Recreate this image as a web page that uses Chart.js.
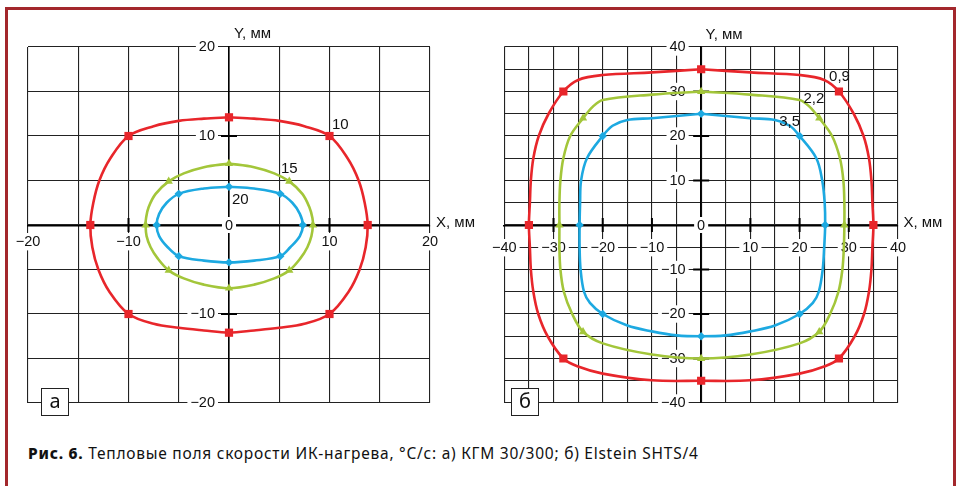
<!DOCTYPE html>
<html lang="ru">
<head>
<meta charset="utf-8">
<script src="https://cdn.jsdelivr.net/npm/chart.js@4.4.0/dist/chart.umd.min.js"></script>
<style>
    html, body { margin: 0; padding: 0; background: #fff; }
    body { width: 957px; height: 486px; position: relative; overflow: hidden; font-family: "Liberation Sans", Arial, sans-serif; }
    #frame { position: absolute; left: 5px; top: 7px; width: 945px; height: 500px; border: 3px solid #a3282c; border-bottom: none; }
    .wrap { position: absolute; top: 0; height: 430px; }
    #wrapA { left: 0; width: 478px; }
    #wrapB { left: 478px; width: 479px; }
    .tag { position: absolute; top: 388px; width: 26px; height: 26px; border: 1.5px solid #222; background: #fff;
           font: 20px "Noto Sans", sans-serif; text-align: center; line-height: 24px; color: #111; }
    #caption { position: absolute; left: 28px; top: 442px; font: 15.5px "Noto Sans", sans-serif; letter-spacing: 0.75px; color: #111; white-space: nowrap; }
    #caption b { font-weight: 800; }
</style>
</head>
<body>
<div id="frame"></div>
<div class="wrap" id="wrapA"><canvas id="chartA"></canvas></div>
<div class="wrap" id="wrapB"><canvas id="chartB"></canvas></div>
<div class="tag" style="left:41px">а</div>
<div class="tag" style="left:511px">б</div>
<div id="caption"><b>Рис. 6.</b> Тепловые поля скорости ИК-нагрева, °C/с: а) КГМ 30/300; б) Elstein SHTS/4</div>

<script>
// --- data, [x, y] in mm ---

// а) КГМ 30/300
var aNames = ['10', '15', '20'];
var aRed = [[0,12.1],[2.5,11.95],[5,11.7],[7.5,11.1],[10,10],[11.8,7.5],[12.9,5],[13.5,2.5],[13.8,0],[13.6,-2.5],[13.0,-5],[11.9,-7.5],[10,-10],[7.5,-11.1],[5,-11.55],[2.5,-11.85],[0,-12.1],
            [-2.5,-11.85],[-5,-11.55],[-7.5,-11.1],[-10,-10],[-11.9,-7.5],[-13.0,-5],[-13.6,-2.5],[-13.8,0],[-13.5,2.5],[-12.9,5],[-11.8,7.5],[-10,10],[-7.5,11.1],[-5,11.7],[-2.5,11.95],[0,12.1]];
var aRedMarks = [[0,12.1],[10,10],[13.8,0],[10,-10],[0,-12.1],[-10,-10],[-13.8,0],[-10,10]];
var aGreen = [[0,6.9],[2.5,6.5],[4.5,5.8],[6,4.9],[7.3,3.5],[8.0,2.0],[8.3,0.8],[8.35,0],[8.2,-1.25],[7.8,-2.5],[7.1,-3.75],[6,-5.1],[4.5,-6.0],[2.5,-6.7],[0,-7.1],
              [-2.5,-6.7],[-4.5,-6.0],[-6,-5.1],[-7.1,-3.75],[-7.8,-2.5],[-8.2,-1.25],[-8.3,0],[-8.25,0.8],[-8.0,2.0],[-7.3,3.5],[-6,4.9],[-4.5,5.8],[-2.5,6.5],[0,6.9]];
var aGreenMarks = [[0,6.9],[6,4.9],[8.35,0],[6,-5.1],[0,-7.1],[-6,-5.1],[-8.3,0],[-6,4.9]];
var aBlue = [[0,4.3],[2.5,4.1],[5.1,3.5],[6.3,2.5],[7.05,1.25],[7.35,0],[7.05,-1.25],[6.1,-2.5],[5.1,-3.5],[2.5,-4.0],[0,-4.2],
             [-2.5,-4.0],[-5,-3.5],[-6.1,-2.5],[-6.95,-1.25],[-7.2,0],[-6.95,1.25],[-6.2,2.5],[-5,3.5],[-2.5,4.1],[0,4.3]];
var aBlueMarks = [[0,4.3],[5.1,3.5],[7.35,0],[5.1,-3.5],[0,-4.2],[-5,-3.5],[-7.2,0],[-5,3.5]];

// б) Elstein SHTS/4
var bNames = ['0,9', '2,2', '3,5'];
var bRed = [[0,35],[10,34.3],[20,33.7],[25,32.6],[28,30],[31.0,25],[33.0,20],[34.1,15],[34.6,10],[34.8,5],[35,0],[34.8,-5],[34.6,-10],[34.1,-15],[33.1,-20],[31.2,-25],[28,-30],[25,-31.8],[20,-33.4],[10,-34.9],[0,-35],
            [-10,-34.9],[-20,-33.4],[-25,-31.8],[-28,-30],[-31.2,-25],[-33.1,-20],[-34.1,-15],[-34.6,-10],[-34.8,-5],[-35,0],[-34.8,5],[-34.6,10],[-34.1,15],[-33.0,20],[-31.0,25],[-28,30],[-25,32.6],[-20,33.7],[-10,34.3],[0,35]];
var bRedMarks = [[0,35],[28,30],[35,0],[28,-30],[0,-35],[-28,-30],[-35,0],[-28,30]];
var bGreen = [[0,30],[10,29.3],[20,28.1],[22,26.6],[24,24],[26.6,20],[28.2,15],[28.9,10],[29.1,5],[29.1,0],[29,-5],[28.7,-10],[27.9,-15],[26.2,-20],[24,-24],[20,-26.6],[10,-29.1],[0,-30],
              [-10,-29.1],[-20,-26.6],[-24,-24],[-26.2,-20],[-27.9,-15],[-28.6,-10],[-28.8,-5],[-28.8,0],[-28.8,5],[-28.6,10],[-28,15],[-26.6,20],[-24,24],[-22,26.6],[-20,28.1],[-10,29.3],[0,30]];
var bGreenMarks = [[0,30],[24,24],[29.1,0],[24,-24],[0,-30],[-24,-24],[-28.8,0],[-24,24]];
var bBlue = [[0,25],[10,24],[15,23.6],[18,22.3],[20,20],[23.4,15],[24.6,10],[25.1,5],[25.2,0],[25,-5],[24.7,-10],[23.9,-15],[22.7,-17.5],[20,-20],[15,-22.6],[10,-23.9],[5,-24.8],[0,-25],
             [-5,-24.8],[-10,-23.9],[-15,-22.6],[-20,-20],[-22.6,-17.5],[-23.8,-15],[-24.5,-10],[-24.7,-5],[-24.7,0],[-24.6,5],[-24.4,10],[-23.2,15],[-20,20],[-18,22.3],[-15,23.6],[-10,24],[0,25]];
var bBlueMarks = [[0,25],[20,20],[25.2,0],[20,-20],[0,-25],[-20,-20],[-24.7,0],[-20,20]];

var RED = '#e8262b', GREEN = '#a3c63a', BLUE = '#1da9e1';
var LABEL_FONT = '"Liberation Sans", Arial, sans-serif';

function pts(list) {
    return list.map(function(p) { return {x: p[0], y: p[1]}; });
}

function fmt(v) {
    return v < 0 ? '\u2212' + Math.abs(v) : String(v);
}

// short thick marks crossing the axes at labelled values
var axisMarks = {
    id: 'axisMarks',
    beforeDatasetsDraw: function(chart, args, opts) {
        var ctx = chart.ctx, x = chart.scales.x, y = chart.scales.y;
        var x0 = x.getPixelForValue(0), y0 = y.getPixelForValue(0);
        ctx.save();
        ctx.strokeStyle = '#000';
        ctx.lineWidth = 2;
        ctx.beginPath();
        x.ticks.forEach(function(t) {
            if (t.value !== 0 && t.value % opts.step === 0 && Math.abs(t.value) < x.max) {
                var px = x.getPixelForValue(t.value);
                ctx.moveTo(px, y0 - 7);
                ctx.lineTo(px, y0 + 7);
            }
        });
        y.ticks.forEach(function(t) {
            if (t.value !== 0 && t.value % opts.step === 0 && Math.abs(t.value) < y.max) {
                var py = y.getPixelForValue(t.value);
                ctx.moveTo(x0 - 8, py);
                ctx.lineTo(x0 + 8, py);
            }
        });
        ctx.stroke();
        ctx.restore();
    }
};

// axis titles, origin label and curve values, anchored in data units
var notes = {
    id: 'notes',
    afterDraw: function(chart, args, opts) {
        var ctx = chart.ctx, x = chart.scales.x, y = chart.scales.y;
        ctx.save();
        ctx.textBaseline = 'middle';
        opts.items.forEach(function(it) {
            var px = x.getPixelForValue(it.x), py = y.getPixelForValue(it.y);
            ctx.font = (it.size || 15) + 'px ' + LABEL_FONT;
            ctx.textAlign = it.align || 'left';
            if (it.bg) {
                var w = ctx.measureText(it.text).width + 6;
                ctx.fillStyle = '#fff';
                ctx.fillRect(px - w / 2, py - 8, w, 16);
            }
            ctx.fillStyle = '#111';
            ctx.fillText(it.text, px, py + 0.5);
        });
        ctx.restore();
    }
};

function curve(data, color) {
    return { data: pts(data), showLine: true, borderColor: color, borderWidth: 2.6, tension: 0.35, pointRadius: 0, order: 2 };
}

function marks(data, color, style, r) {
    return { data: pts(data), showLine: false, pointStyle: style, pointRadius: r, backgroundColor: color, borderColor: color, borderWidth: 0, order: 1 };
}

function labelled(v) {
    return v % 10 === 0 && v !== 0;
}

function axis(lim, pad, sizeKey) {
    return {
        type: 'linear', min: -lim, max: lim,
        position: 'center',
        afterFit: function(s) { s[sizeKey] = 0; },
        grid: { color: '#222', lineWidth: 1.1, drawTicks: false },
        border: { display: true, color: '#000', width: 1.6 },
        ticks: {
            stepSize: 5, autoSkip: false, maxRotation: 0, padding: pad, color: '#111',
            font: { family: LABEL_FONT, size: 14.5 },
            showLabelBackdrop: function(c) { return !!c.tick && labelled(c.tick.value); },
            backdropColor: '#fff', backdropPadding: { x: 3, y: 0 },
            callback: function(v) { return labelled(v) ? fmt(v) : ''; }
        }
    };
}

function makeChart(id, lim, sets, padding, xPad, yPad, items) {
    var ctx = document.getElementById(id).getContext('2d');
    return new Chart(ctx, {
        type: 'scatter',
        data: {
            datasets: [
                marks(sets[0][1], RED, 'rect', 5.8),
                marks(sets[1][1], GREEN, 'triangle', 4.8),
                marks(sets[2][1], BLUE, 'rectRot', 4.2),
                curve(sets[0][0], RED),
                curve(sets[1][0], GREEN),
                curve(sets[2][0], BLUE)
            ]
        },
        options: {
            responsive: true,
            maintainAspectRatio: false,
            animation: false,
            layout: { padding: padding },
            plugins: {
                legend: { display: false },
                tooltip: { enabled: false },
                axisMarks: { step: 10 },
                notes: { items: items }
            },
            scales: {
                x: axis(lim, xPad, 'height'),
                y: axis(lim, yPad, 'width')
            }
        },
        plugins: [axisMarks, notes]
    });
}

makeChart('chartA', 20,
    [[aRed, aRedMarks], [aGreen, aGreenMarks], [aBlue, aBlueMarks]],
    { left: 28, right: 48, top: 47, bottom: 27 }, 8, 14,
    [
        { text: '0', x: 0, y: 0, align: 'center', bg: true, size: 14.5 },
        { text: 'Y, мм', x: 0.5, y: 21.5 },
        { text: 'X, мм', x: 20.6, y: 0.3 },
        { text: aNames[0], x: 10.25, y: 11.3 },
        { text: aNames[1], x: 5.17, y: 6.35 },
        { text: aNames[2], x: 0.3, y: 2.9 }
    ]);

makeChart('chartB', 40,
    [[bRed, bRedMarks], [bGreen, bGreenMarks], [bBlue, bBlueMarks]],
    { left: 17, right: 59, top: 47, bottom: 27 }, 14, 15.5,
    [
        { text: '0', x: 0, y: 0, align: 'center', bg: true, size: 14.5 },
        { text: 'Y, мм', x: 0.9, y: 42.9 },
        { text: 'X, мм', x: 41.1, y: 0.7 },
        { text: bNames[0], x: 26, y: 33.4 },
        { text: bNames[1], x: 20.8, y: 28.4 },
        { text: bNames[2], x: 15.85, y: 23.3 }
    ]);
</script>
</body>
</html>
